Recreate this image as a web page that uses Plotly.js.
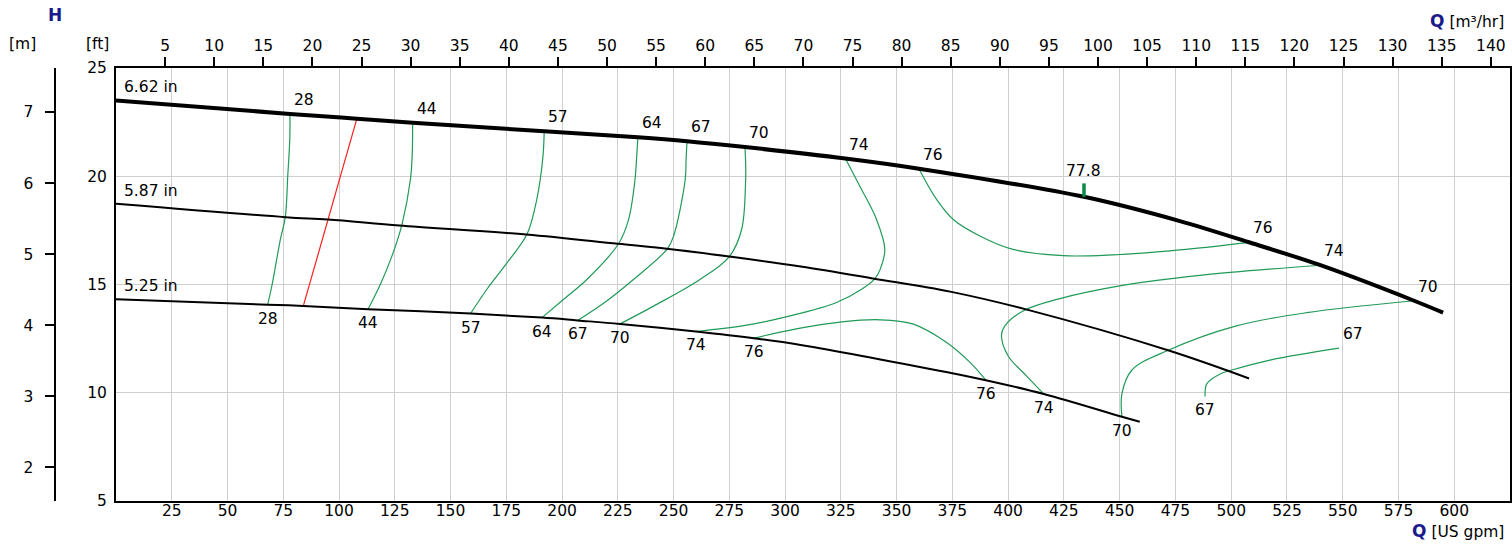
<!DOCTYPE html>
<html>
<head>
<meta charset="utf-8">
<script src="https://cdn.plot.ly/plotly-3.0.1.min.js"></script>
<style>
  html, body { margin: 0; padding: 0; background: #ffffff; }
  #chart { width: 1512px; height: 545px; }
</style>
</head>
<body>
<div id="chart"></div>
<script>
// Pump performance curves: head (ft) versus flow (US gpm) for three impeller diameters,
// with iso-efficiency lines (%).

const GPM_PER_M3H = 4.40287;
const FT_PER_M = 3.28084;

const gpmTicks = [25, 50, 75, 100, 125, 150, 175, 200, 225, 250, 275, 300, 325, 350, 375, 400, 425, 450, 475, 500, 525, 550, 575, 600];
const m3hTicks = [5, 10, 15, 20, 25, 30, 35, 40, 45, 50, 55, 60, 65, 70, 75, 80, 85, 90, 95, 100, 105, 110, 115, 120, 125, 130, 135, 140];
const ftTicks = [5, 10, 15, 20, 25];
const mTicks = [2, 3, 4, 5, 6, 7];

// Impeller curves
const imp662Q = [0, 78, 108, 133, 192, 234, 256, 282, 327, 360, 434, 477, 508, 540, 582, 595];
const imp662H = [23.5, 22.88, 22.66, 22.47, 22.08, 21.8, 21.62, 21.35, 20.82, 20.35, 19.05, 17.93, 16.95, 15.89, 14.25, 13.7];
const imp587Q = [0, 76, 95, 127, 184, 225, 247, 275, 307, 340, 374, 408, 472, 508];
const imp587H = [18.73, 18.11, 18.0, 17.73, 17.31, 16.88, 16.65, 16.29, 15.83, 15.27, 14.67, 13.85, 11.95, 10.66];
const imp525Q = [0, 68, 84, 113, 159, 191, 207, 226, 260, 286, 307, 374, 390, 416, 451, 459];
const imp525H = [14.32, 14.07, 14.01, 13.86, 13.66, 13.47, 13.34, 13.18, 12.83, 12.52, 12.21, 10.92, 10.58, 9.94, 8.89, 8.66];
const impellerNames = ['6.62 in', '5.87 in', '5.25 in'];

// Iso-efficiency lines (%)
const eff28Q = [78, 77.9, 77.0, 75.9, 73.7, 70.0, 68];
const eff28H = [22.88, 21.69, 20.0, 18.11, 17.08, 15.0, 14.07];
const eff44Q = [133, 132.8, 132, 128.2, 123.7, 118.5, 113];
const eff44H = [22.47, 21.0, 19.85, 17.77, 16.31, 15.0, 13.86];
const eff57Q = [192, 191.5, 190.2, 188, 184.2, 175.3, 166.3, 159];
const eff57H = [22.08, 21.0, 19.85, 18.62, 17.31, 16.0, 14.78, 13.66];
const eff64Q = [234, 233.5, 232.7, 229.8, 225.3, 211.1, 200.6, 191];
const eff64H = [21.8, 21.0, 19.85, 18.0, 16.88, 15.23, 14.31, 13.47];
const eff67Q = [256, 255.6, 255.2, 250, 247.2, 232, 220, 207];
const eff67H = [21.62, 20.8, 19.85, 17.24, 16.65, 15.23, 14.24, 13.34];
const eff70Q = [282, 282.3, 282.3, 280.5, 275, 261.8, 241, 226];
const eff70H = [21.35, 20.6, 19.85, 17.54, 16.29, 15.23, 14.0, 13.18];
const eff74aQ = [327, 333.5, 341, 344.7, 342.6, 340.3, 334.3, 323.1, 302.2, 282.8, 260];
const eff74aH = [20.82, 19.54, 18.0, 16.62, 15.7, 15.27, 14.78, 14.17, 13.55, 13.12, 12.83];
const eff76aQ = [286, 300.7, 325.4, 342.5, 357.5, 372.4, 382.9, 390];
const eff76aH = [12.52, 12.86, 13.27, 13.37, 13.17, 12.32, 11.4, 10.58];
const eff76bQ = [360, 367.9, 375.4, 387.3, 402.2, 424.6, 447, 477, 508];
const eff76bH = [20.35, 18.93, 18.0, 17.24, 16.62, 16.33, 16.37, 16.6, 16.95];
const eff74bQ = [416, 408.2, 400, 397, 398.5, 406.7, 423.2, 450.7, 485.9, 540];
const eff74bH = [9.94, 10.78, 11.7, 12.63, 13.09, 13.78, 14.35, 14.95, 15.42, 15.89];
const eff70bQ = [451, 451, 455.5, 471.5, 501.9, 533.9, 582];
const eff70bH = [8.89, 9.95, 11.05, 11.95, 13.08, 13.7, 14.25];
const eff67bQ = [488.3, 489.1, 495.5, 500.3, 517.9, 548.3];
const eff67bH = [9.83, 10.42, 10.89, 11.05, 11.52, 12.06];

// Minimum-flow line and best efficiency point
const minFlowQ = [108, 84];
const minFlowH = [22.66, 14.01];
const bepQ = 434;
const bepH = 19.05;
const bepEff = '77.8';

const GREEN = '#1f9a58';
const NAVY = '#1a1a8c';
const FONT = 'DejaVu Sans, Liberation Sans, Arial, sans-serif';
const FS = 15.5;

const traces = [];
function line(x, y, color, width) {
  traces.push({
    type: 'scatter', mode: 'lines', x: x, y: y,
    line: { color: color, width: width, shape: 'spline', smoothing: 1 },
    hoverinfo: 'skip', showlegend: false, xaxis: 'x', yaxis: 'y'
  });
}

// iso lines: [Q, H, label, startPlacement, endPlacement]
const isoLines = [
  [eff28Q, eff28H, '28', 'above', 'below'],
  [eff44Q, eff44H, '44', 'above', 'below'],
  [eff57Q, eff57H, '57', 'above', 'below'],
  [eff64Q, eff64H, '64', 'above', 'below'],
  [eff67Q, eff67H, '67', 'above', 'below'],
  [eff70Q, eff70H, '70', 'above', 'below'],
  [eff74aQ, eff74aH, '74', 'above', 'below'],
  [eff76aQ, eff76aH, '76', 'below', 'below'],
  [eff76bQ, eff76bH, '76', 'above', 'above'],
  [eff74bQ, eff74bH, '74', 'below', 'above'],
  [eff70bQ, eff70bH, '70', 'below', 'above'],
  [eff67bQ, eff67bH, '67', 'below', 'above']
];

isoLines.forEach(l => line(l[0], l[1], GREEN, 1.2));
line(minFlowQ, minFlowH, '#ff1f1f', 1.2);
line(imp662Q, imp662H, '#000000', 4);
line(imp587Q, imp587H, '#000000', 2);
line(imp525Q, imp525H, '#000000', 2);

// best efficiency point marker
traces.push({
  type: 'scatter', mode: 'lines', x: [bepQ, bepQ], y: [bepH, bepH + 0.62],
  line: { color: '#0a8a45', width: 3.5 }, hoverinfo: 'skip', showlegend: false
});

// axes carrying only ticks (top flow in m3/h, left head in m)
traces.push({ type: 'scatter', mode: 'lines', x: [0], y: [5], xaxis: 'x2', yaxis: 'y', hoverinfo: 'skip', showlegend: false, line: { width: 0 } });
traces.push({ type: 'scatter', mode: 'lines', x: [0], y: [2], xaxis: 'x', yaxis: 'y2', hoverinfo: 'skip', showlegend: false, line: { width: 0 } });

const annotations = [];
const txt = { family: FONT, size: FS, color: '#000000' };

function placeLabel(q, h, text, where) {
  if (where === 'above') {
    annotations.push({ x: q, y: h, xref: 'x', yref: 'y', text: text, showarrow: false,
      xanchor: 'left', yanchor: 'bottom', xshift: 2, yshift: 3, font: txt });
  } else {
    annotations.push({ x: q, y: h, xref: 'x', yref: 'y', text: text, showarrow: false,
      xanchor: 'center', yanchor: 'top', xshift: 0, yshift: -3, font: txt });
  }
}
isoLines.forEach(l => {
  const n = l[0].length - 1;
  placeLabel(l[0][0], l[1][0], l[2], l[3]);
  placeLabel(l[0][n], l[1][n], l[2], l[4]);
});
annotations.push({ x: bepQ, y: bepH + 0.62, xref: 'x', yref: 'y', text: bepEff, showarrow: false,
  xanchor: 'center', yanchor: 'bottom', yshift: 1, font: txt });

[[imp662Q, imp662H], [imp587Q, imp587H], [imp525Q, imp525H]].forEach((c, i) => {
  annotations.push({ x: c[0][0], y: c[1][0], xref: 'x', yref: 'y', text: impellerNames[i], showarrow: false,
    xanchor: 'left', yanchor: 'bottom', xshift: 6, yshift: 2, font: txt });
});

// unit captions around the frame (paper coordinates: x over 0..1510 px, y over 501..68 px)
const W = 1510, TOP = 68, BOT = 501;
const px = v => v / W;
const py = v => (BOT - v) / (BOT - TOP);
annotations.push({ x: px(55), y: py(15), xref: 'paper', yref: 'paper', text: '<b>H</b>', showarrow: false,
  xanchor: 'center', yanchor: 'middle', font: { family: FONT, size: 17, color: NAVY } });
annotations.push({ x: px(22), y: py(44), xref: 'paper', yref: 'paper', text: '[m]', showarrow: false,
  xanchor: 'center', yanchor: 'middle', font: txt });
annotations.push({ x: px(97), y: py(44), xref: 'paper', yref: 'paper', text: '[ft]', showarrow: false,
  xanchor: 'center', yanchor: 'middle', font: txt });
annotations.push({ x: px(1506), y: py(21), xref: 'paper', yref: 'paper',
  text: '<b><span style="color:' + NAVY + ';font-size:17px">Q</span></b> [m³/hr]', showarrow: false,
  xanchor: 'right', yanchor: 'middle', font: txt });
annotations.push({ x: px(1506), y: py(531), xref: 'paper', yref: 'paper',
  text: '<b><span style="color:' + NAVY + ';font-size:17px">Q</span></b> [US gpm]', showarrow: false,
  xanchor: 'right', yanchor: 'middle', font: txt });

const dom = [116 / W, 1];
const layout = {
  width: 1512, height: 545,
  margin: { l: 0, r: 2, t: TOP, b: 545 - BOT, pad: 0 },
  paper_bgcolor: '#ffffff', plot_bgcolor: '#ffffff',
  font: txt,
  showlegend: false,
  xaxis: {
    domain: dom, range: [0, 625], anchor: 'y',
    tickmode: 'array', tickvals: gpmTicks, ticks: '',
    showgrid: true, gridcolor: '#cfcfcf', gridwidth: 1,
    showline: true, linecolor: '#000000', linewidth: 2, zeroline: false,
    tickfont: txt, ticklabelstandoff: -6, fixedrange: true
  },
  xaxis2: {
    domain: dom, range: [0, 625 / GPM_PER_M3H], overlaying: 'x', side: 'top', anchor: 'y',
    tickmode: 'array', tickvals: m3hTicks, ticks: 'outside', ticklen: 9, tickwidth: 2, tickcolor: '#000000',
    showgrid: false, showline: true, linecolor: '#000000', linewidth: 2, zeroline: false,
    tickfont: txt, fixedrange: true
  },
  yaxis: {
    domain: [0, 1], range: [5, 25], anchor: 'x',
    tickmode: 'array', tickvals: ftTicks, ticks: '',
    showgrid: true, gridcolor: '#cfcfcf', gridwidth: 1,
    showline: true, mirror: true, linecolor: '#000000', linewidth: 2, zeroline: false,
    tickfont: txt, ticklabelstandoff: 4, fixedrange: true
  },
  yaxis2: {
    overlaying: 'y', anchor: 'free', position: 54.5 / W, side: 'left',
    range: [5 / FT_PER_M, 25 / FT_PER_M],
    tickmode: 'array', tickvals: mTicks, ticks: 'outside', ticklen: 9, tickwidth: 2, tickcolor: '#000000',
    showgrid: false, showline: true, linecolor: '#000000', linewidth: 2, zeroline: false,
    tickfont: txt, ticklabelstandoff: 8, fixedrange: true
  },
  annotations: annotations
};

Plotly.newPlot('chart', traces, layout, { staticPlot: true, displayModeBar: false });
</script>
</body>
</html>
